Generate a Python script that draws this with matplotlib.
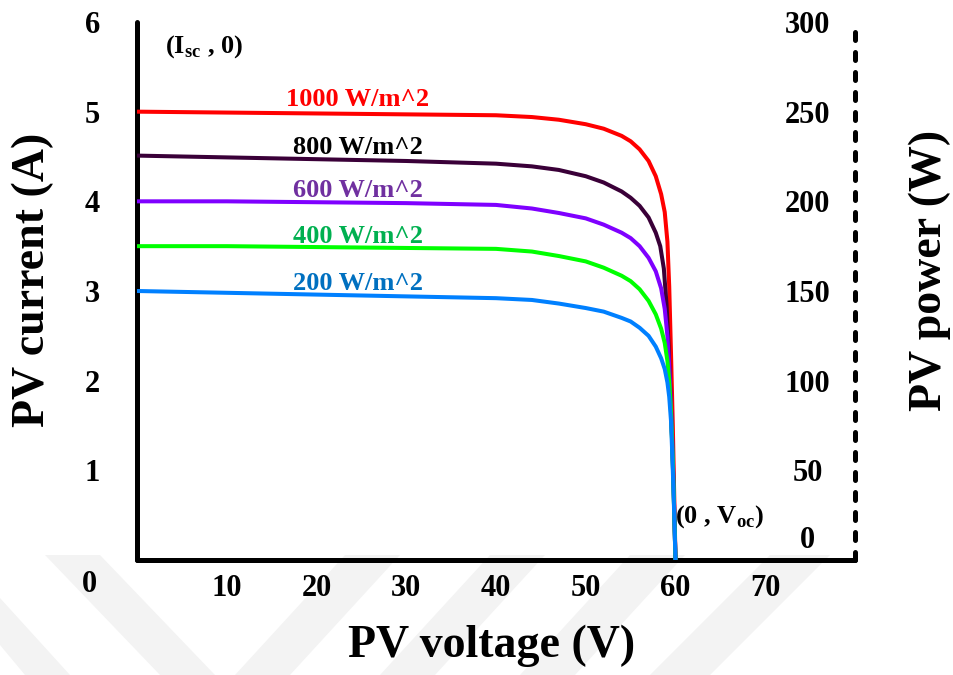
import matplotlib
matplotlib.use("Agg")
import matplotlib.pyplot as plt
from matplotlib.patches import Polygon

plt.rcParams['font.family'] = ['Liberation Serif', 'DejaVu Serif']
plt.rcParams['font.weight'] = 'bold'
plt.rcParams['axes.labelweight'] = 'bold'
plt.rcParams['mathtext.fontset'] = 'custom'
plt.rcParams['mathtext.rm'] = 'Liberation Serif:bold'
plt.rcParams['mathtext.bf'] = 'Liberation Serif:bold'

# I-V curves for each irradiance level (voltage in V, current in A)
v_1000 = [0, 10, 20, 30, 40, 44, 47, 50, 52, 54, 55, 56, 57, 57.8, 58.4, 58.8, 59.1, 59.3, 59.5, 59.7, 59.85, 60.0]
i_1000 = [5.00, 4.99, 4.98, 4.97, 4.96, 4.94, 4.91, 4.86, 4.81, 4.73, 4.67, 4.58, 4.45, 4.28, 4.08, 3.88, 3.55, 3.05, 2.30, 1.50, 0.75, 0.0]

v_800 = [0, 10, 20, 30, 40, 44, 47, 50, 52, 54, 55, 56, 57, 57.8, 58.3, 58.7, 59.0, 59.2, 59.4, 59.6, 59.8, 60.0]
i_800 = [4.51, 4.49, 4.47, 4.45, 4.42, 4.39, 4.35, 4.28, 4.21, 4.11, 4.04, 3.95, 3.82, 3.65, 3.50, 3.25, 2.85, 2.45, 1.95, 1.40, 0.75, 0.0]

v_600 = [0, 10, 20, 30, 40, 44, 47, 50, 52, 54, 55, 56, 57, 57.8, 58.4, 58.8, 59.1, 59.3, 59.5, 59.7, 59.85, 60.0]
i_600 = [4.00, 4.00, 3.99, 3.98, 3.96, 3.92, 3.87, 3.81, 3.74, 3.65, 3.59, 3.50, 3.37, 3.22, 3.03, 2.80, 2.50, 2.15, 1.70, 1.15, 0.60, 0.0]

v_400 = [0, 10, 20, 30, 40, 44, 47, 50, 52, 54, 55, 56, 57, 57.8, 58.4, 58.8, 59.1, 59.3, 59.5, 59.7, 59.85, 60.0]
i_400 = [3.50, 3.50, 3.49, 3.48, 3.47, 3.44, 3.39, 3.33, 3.26, 3.17, 3.11, 3.02, 2.89, 2.74, 2.58, 2.42, 2.22, 2.00, 1.65, 1.10, 0.55, 0.0]

v_200 = [0, 10, 20, 30, 40, 44, 47, 50, 52, 54, 55, 56, 57, 57.8, 58.4, 58.8, 59.1, 59.3, 59.5, 59.65, 59.8, 60.0]
i_200 = [3.00, 2.98, 2.96, 2.94, 2.92, 2.90, 2.86, 2.81, 2.77, 2.70, 2.66, 2.59, 2.50, 2.38, 2.25, 2.13, 1.98, 1.82, 1.55, 1.15, 0.70, 0.0]

labels = ['1000 W/m^2', '800 W/m^2', '600 W/m^2', '400 W/m^2', '200 W/m^2']
line_colors = ['#ff0000', '#3a0038', '#7f00ff', '#00ff00', '#0080ff']
text_colors = ['#ff0000', '#000000', '#7030a0', '#00b050', '#0070c0']
label_y = [5.14, 4.60, 4.12, 3.61, 3.08]
label_x = 24.6

current_ticks = [1, 2, 3, 4, 5, 6]
power_ticks = [50, 100, 150, 200, 250, 300]
voltage_ticks = [10, 20, 30, 40, 50, 60, 70]

fig = plt.figure(figsize=(9.54, 6.75), dpi=100)

# faint diagonal bands in the lower margin
band_color = '#f3f3f3'
bands = [
    [(45, 555), (100, 555), (215, 675), (160, 675)],
    [(0, 598), (0, 645), (25, 675), (70, 675)],
    [(345, 555), (400, 555), (290, 675), (235, 675)],
    [(490, 555), (545, 555), (435, 675), (380, 675)],
    [(630, 555), (685, 555), (575, 675), (520, 675)],
    [(770, 555), (830, 555), (710, 675), (650, 675)],
]
for pts in bands:
    fig.patches.append(Polygon([(x / 954, 1 - y / 675) for x, y in pts],
                               closed=True, transform=fig.transFigure,
                               facecolor=band_color, edgecolor='none', zorder=-5))

ax = fig.add_axes([137 / 954, 1 - 560 / 675, 718 / 954, 538 / 675])
ax.patch.set_alpha(0)

curves = [(v_1000, i_1000), (v_800, i_800), (v_600, i_600), (v_400, i_400), (v_200, i_200)]
for (v, i), lc in zip(curves, line_colors):
    ax.plot(v, i, color=lc, lw=2.9, solid_capstyle='butt', solid_joinstyle='round', zorder=3)
for lab, tc, ly in zip(labels, text_colors, label_y):
    ax.text(label_x, ly, lab, color=tc, fontsize=19, ha='center', va='center')

ax.set_xlim(0, 80)
ax.set_ylim(0, 6)
ax.set_xticks(voltage_ticks)
ax.set_yticks(current_ticks)
ax.tick_params(axis='x', length=0, labelsize=22, pad=10)
ax.tick_params(axis='y', length=0, labelsize=22, pad=32)
for lbl in ax.get_yticklabels():
    lbl.set_horizontalalignment('center')

for side in ['top', 'right']:
    ax.spines[side].set_visible(False)
for side in ['left', 'bottom']:
    ax.spines[side].set_linewidth(3.6)
    ax.spines[side].set_capstyle('round')

# shared origin label
ax.annotate('0', xy=(0, 0), xycoords='data', xytext=(-34, -18),
            textcoords='offset points', fontsize=22, ha='center', va='center',
            annotation_clip=False)

ax.text(3.1, 5.73, r'(I$_{\mathbf{sc}}$ , 0)', fontsize=19, ha='left', va='center')
ax.text(59.9, 0.48, r'(0 , V$_{\mathbf{oc}}$)', fontsize=19, ha='left', va='center')

ax.set_xlabel('PV voltage (V)', fontsize=33, va='center')
ax.xaxis.set_label_coords(0.494, -0.16)
ax.set_ylabel('PV current (A)', fontsize=33, va='center', ha='center')
ax.yaxis.set_label_coords(-0.145, 0.52)

# power axis on the right with a dashed spine
ax2 = ax.twinx()
ax2.set_ylim(0, 300)
ax2.set_yticks(power_ticks)
ax2.tick_params(axis='y', length=0, labelsize=22, pad=-34)
for lbl in ax2.get_yticklabels():
    lbl.set_horizontalalignment('center')
for side in ['top', 'left', 'bottom']:
    ax2.spines[side].set_visible(False)
ax2.spines['right'].set_linewidth(3.6)
ax2.spines['right'].set_linestyle((0, (1.6, 2.4)))
ax2.spines['right'].set_capstyle('round')
ax2.annotate('0', xy=(1, 0), xycoords='axes fraction', xytext=(-34, 14),
             textcoords='offset points', fontsize=22, ha='center', va='center')
ax2.set_ylabel('PV power (W)', fontsize=33, va='center', ha='center')
ax2.yaxis.set_label_coords(1.104, 0.539)

fig.savefig('out.png', dpi=100)
